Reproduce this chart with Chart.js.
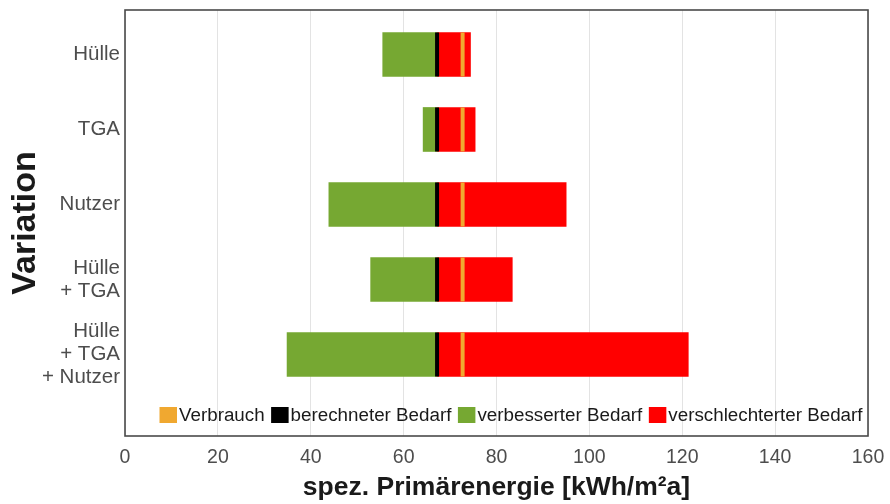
<!DOCTYPE html>
<html>
<head>
<meta charset="utf-8">
<script src="https://cdn.jsdelivr.net/npm/chart.js@4/dist/chart.umd.min.js"></script>
<style>
  html, body { margin: 0; padding: 0; background: #ffffff; }
  #wrap { width: 890px; height: 504px; }
</style>
</head>
<body>
<div id="wrap"><canvas id="c" width="890" height="504"></canvas></div>
<script>
// Variants (multi-line labels on the category axis)
const variations = [
  ['Hülle'],
  ['TGA'],
  ['Nutzer'],
  ['Hülle', '+ TGA'],
  ['Hülle', '+ TGA', '+ Nutzer']
];
// spez. Primärenergie in kWh/m²a
const berechneterBedarf = [67.2, 67.2, 67.2, 67.2, 67.2];
const verbrauch = [72.7, 72.7, 72.7, 72.7, 72.7];
const verbesserterBedarf = [55.5, 64.2, 43.9, 52.9, 34.9];
const verschlechterterBedarf = [74.4, 75.4, 95.0, 83.4, 121.3];
const xTicks = [0, 20, 40, 60, 80, 100, 120, 140, 160];

const FONT = "'Liberation Sans', Arial, sans-serif";
const COL = { verbrauch: '#f0a830', berechnet: '#000000', besser: '#76a832', schlechter: '#ff0000' };

const idx = variations.map((_, i) => i);

// Frame round the plotting area
const framePlugin = {
  id: 'frame',
  afterDraw(chart) {
    const { ctx, chartArea: a } = chart;
    ctx.save();
    ctx.strokeStyle = '#4a4a4a';
    ctx.lineWidth = 1.6;
    ctx.strokeRect(a.left, a.top, a.right - a.left, a.bottom - a.top);
    ctx.restore();
  }
};

// Legend drawn inside the plotting area, along its bottom edge
const innerLegend = {
  id: 'innerLegend',
  afterDraw(chart) {
    const { ctx, chartArea: a } = chart;
    const items = [
      { text: 'Verbrauch', color: COL.verbrauch },
      { text: 'berechneter Bedarf', color: COL.berechnet },
      { text: 'verbesserter Bedarf', color: COL.besser },
      { text: 'verschlechterter Bedarf', color: COL.schlechter }
    ];
    ctx.save();
    ctx.font = '18.8px ' + FONT;
    ctx.textBaseline = 'middle';
    ctx.textAlign = 'left';
    const bw = 17.5, bh = 16, gapBox = 2, gapItem = 6.5;
    let x = a.left + 34.5;
    const y = a.bottom - 21;
    items.forEach(it => {
      const w = ctx.measureText(it.text).width;
      ctx.fillStyle = it.color;
      ctx.fillRect(x, y - bh / 2, bw, bh);
      x += bw + gapBox;
      ctx.fillStyle = '#1a1a1a';
      ctx.fillText(it.text, x, y + 1);
      x += w + gapItem;
    });
    ctx.restore();
  }
};

const bar = (label, lo, hi, color) => ({
  type: 'bar',
  label,
  indexAxis: 'y',
  grouped: false,
  data: idx.map(i => ({ y: i, x: [lo[i], hi[i]] })),
  backgroundColor: color,
  borderWidth: 0,
  barThickness: 44,
  order: 2
});

const marker = (label, vals, color) => ({
  type: 'scatter',
  label,
  data: idx.map(i => ({ x: vals[i], y: i })),
  pointStyle: 'line',
  rotation: 90,
  radius: 22,
  hoverRadius: 22,
  borderWidth: 4,
  borderColor: color,
  backgroundColor: color,
  order: 0
});

new Chart(document.getElementById('c'), {
  data: {
    datasets: [
      marker('Verbrauch', verbrauch, COL.verbrauch),
      marker('berechneter Bedarf', berechneterBedarf, COL.berechnet),
      bar('verbesserter Bedarf', verbesserterBedarf, berechneterBedarf, COL.besser),
      bar('verschlechterter Bedarf', berechneterBedarf, verschlechterterBedarf, COL.schlechter)
    ]
  },
  options: {
    responsive: false,
    animation: false,
    layout: { autoPadding: false, padding: { top: 10, right: 22, left: 0, bottom: 0 } },
    plugins: { legend: { display: false }, tooltip: { enabled: false } },
    scales: {
      x: {
        type: 'linear',
        position: 'bottom',
        stacked: false,
        offset: false,
        min: 0,
        max: 160,
        afterBuildTicks: s => { s.ticks = xTicks.map(v => ({ value: v })); },
        afterFit: s => { s.height = 68; s.paddingLeft = 0; s.paddingRight = 0; },
        grid: { color: '#e3e3e3', lineWidth: 1, drawTicks: false, offset: false },
        border: { display: false },
        ticks: { padding: 10, color: '#4d4d4d', font: { family: FONT, size: 19.5 } },
        title: {
          display: true,
          text: 'spez. Primärenergie [kWh/m²a]',
          color: '#1a1a1a',
          font: { family: FONT, size: 26.5, weight: 'bold', lineHeight: 1 },
          padding: { top: 0, bottom: 3 }
        }
      },
      y: {
        type: 'linear',
        position: 'left',
        reverse: true,
        offset: false,
        min: -0.593,
        max: 5.087,
        afterBuildTicks: s => { s.ticks = idx.map(v => ({ value: v })); },
        afterFit: s => { s.width = 125; s.paddingTop = 0; s.paddingBottom = 0; },
        grid: { display: false, drawTicks: false, offset: false },
        border: { display: false },
        ticks: {
          padding: 5,
          color: '#4d4d4d',
          font: { family: FONT, size: 20.5, lineHeight: 1.12 },
          callback: v => variations[v] || ''
        },
        title: {
          display: true,
          text: 'Variation',
          color: '#1a1a1a',
          font: { family: FONT, size: 34, weight: 'bold', lineHeight: 1 },
          padding: { top: 9, bottom: 0 }
        }
      }
    }
  },
  plugins: [framePlugin, innerLegend]
});
</script>
</body>
</html>
